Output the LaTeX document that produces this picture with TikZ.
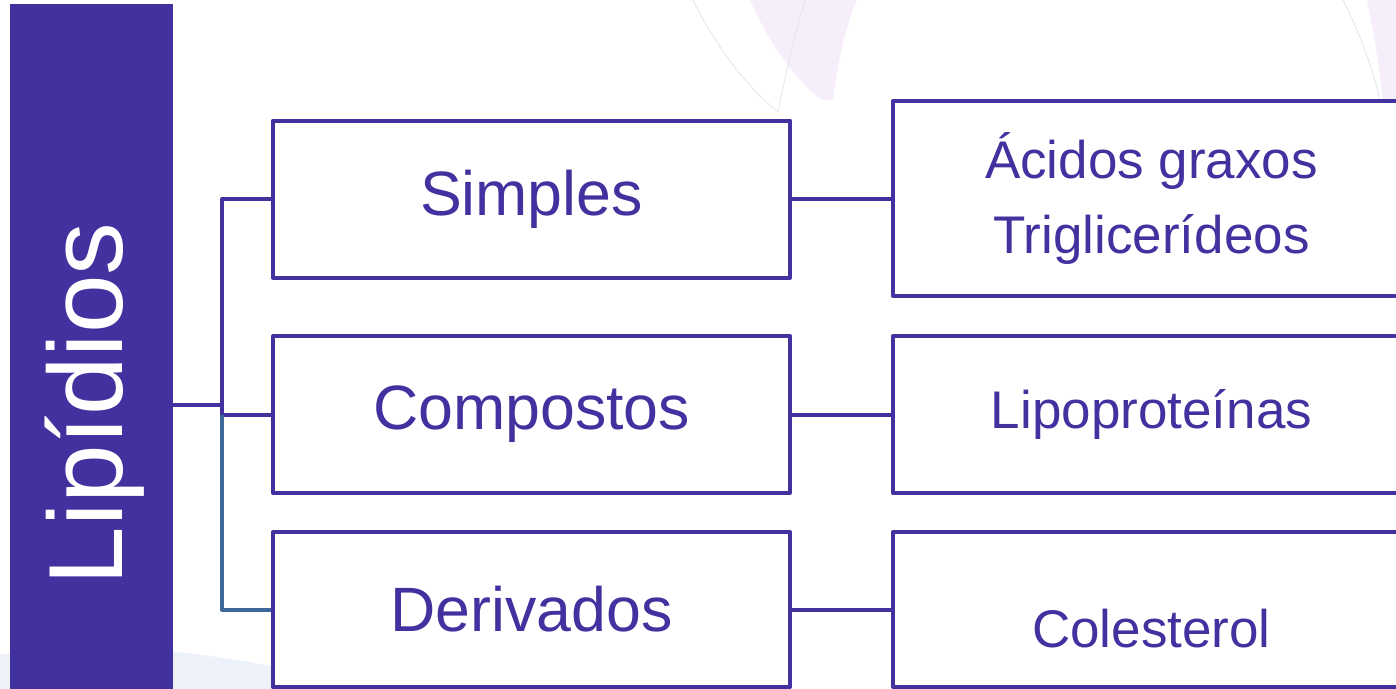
\documentclass[tikz,border=0pt]{standalone}
\usepackage{fontspec}
\setmainfont{Liberation Sans}
\usepackage{xcolor}
\usepackage{tikz}
\usetikzlibrary{calc}
\usetikzlibrary{positioning}

\definecolor{lippurple}{RGB}{66,50,160}
\definecolor{lipblue}{RGB}{61,102,153}
\definecolor{lavender}{RGB}{246,238,251}
\definecolor{paleline}{RGB}{228,228,236}
\definecolor{paleblue}{RGB}{236,241,250}

\tikzset{
  classbox/.style={draw=lippurple, line width=3pt, line join=round, fill=white,
    minimum width=387.75pt, minimum height=117.75pt, inner sep=0pt,
    text=lippurple, font=\fontsize{47}{56}\selectfont},
  examplebox/.style={draw=lippurple, line width=3pt, line join=round, fill=white,
    minimum width=387.75pt, minimum height=117.75pt, inner sep=0pt, align=center,
    text=lippurple, font=\fontsize{39.75}{56}\selectfont},
  link/.style={draw=lippurple, line width=3pt, line join=round},
}

\begin{document}
\begin{tikzpicture}[x=0.75pt,y=0.75pt,yscale=-1,xscale=1]
\useasboundingbox (0,0) rectangle (1396,689);

% faint background arcs
\fill [lavender] (750,0) .. controls (770,45) and (795,80) .. (822,100) -- (833,100) .. controls (838,60) and (846,25) .. (857,0) -- cycle;
\draw [paleline, line width=0.6pt] (693,0) .. controls (715,45) and (745,85) .. (778,112) ;
\draw [paleline, line width=0.6pt] (805,0) .. controls (795,35) and (785,75) .. (778,112) ;
\fill [lavender] (1367,0) .. controls (1374,35) and (1380,70) .. (1383,100) -- (1396,100) -- (1396,0) -- cycle;
\draw [paleline, line width=0.6pt] (1343,0) .. controls (1358,30) and (1372,65) .. (1380,100) ;
\fill [paleblue] (0,655) .. controls (90,640) and (200,650) .. (300,672) -- (300,689) -- (0,689) -- cycle;

% title bar
\node (bar) [fill=lippurple, minimum width=122.25pt, minimum height=522pt, inner sep=0pt] at (91.5,352) {};
\node (titulo) [anchor=base, rotate=90, text=white, inner sep=0pt, font=\fontsize{79}{80}\selectfont] at (122,404) {Lipídios};

% classes
\node (simples) [classbox] at (531.5,199) {Simples};
\node (compostos) [classbox] at (531.5,414.5) {Compostos};
\node (derivados) [classbox, minimum height=116.25pt] at (531.5,609.5) {Derivados};

% examples
\node (acidos) [examplebox, minimum height=146.25pt] at (1151.5,198.5) {Ácidos graxos\\Triglicerídeos};
\node (lipo) [examplebox] at (1151.5,414.5) {Lipoproteínas};
\node (coles) [examplebox, minimum height=116.25pt] at (1151.5,609.5) {\raisebox{-28.5pt}[0pt][0pt]{Colesterol}};

% tree connectors
\coordinate (fork) at (222,405);
\draw [link] (bar.east |- fork) -- (fork);
\draw [link] (simples.west) -| (fork |- compostos.west) -- (compostos.west);
\draw [link, draw=lipblue] (fork |- compostos.west) |- (derivados.west);

\draw [link] (simples.east) -- (simples.east -| acidos.west);
\draw [link] (compostos.east) -- (lipo.west);
\draw [link] (derivados.east) -- (coles.west);

\end{tikzpicture}
\end{document}
